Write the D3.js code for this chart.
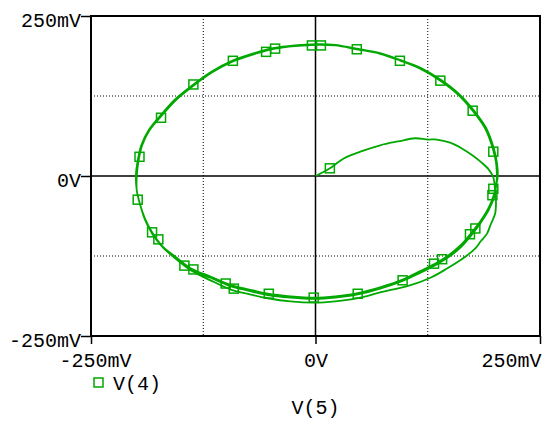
<!DOCTYPE html>
<html>
<head>
<meta charset="utf-8">
<script src="https://cdn.jsdelivr.net/npm/d3@7"></script>
<style>
  body { margin: 0; background: #fff; }
  svg { display: block; }
  text { font-family: "Liberation Mono", "DejaVu Sans Mono", monospace; fill: #000; }
</style>
</head>
<body>
<svg id="chart" width="550" height="425"></svg>
<script>
// ---- data (mV) ----
const xTickValues = [-250, 0, 250];
const yTickValues = [-250, 0, 250];
const tickLabels = ["-250mV", "0V", "250mV"];
const gridValues = [-125, 125];
const seriesName = "V(4)";
const xAxisTitle = "V(5)";

// trace V(5) (x) and V(4) (y), in mV
const traceX = [
  0,7,16,31,50,72,92,111,125,135,150,163,175,185,193,198,
  200,201,200,195,191,184,178,164,146,128,105,72,47,22,-1,-28,-53,-73,-95,-117,-138,-156,-171,-182,-190,-195,-199,-199,
  -197,-193,-185,-172,-156,-136,-115,-92,-67,-45,-23,1,22,46,72,95,116,139,159,175,189,198,201,202,
  201,199,193,185,175,162,149,134,117,97,72,47,22,-1,-28,-53,-75,-95,-117,-138,-156,-171,-182,-190,-195,-199,-200,
  -198,-194,-186,-173,-157,-137,-116,-93,-68,-46,-23,1,22,46,72,95,117,140,160,176,190,199,202,203,
  201,198,192,184,174,161,148,133,116,97,72,47,22,-1,-28,-53,-75,-95,-117,-138,-156,-171,-182,-190,-195,-199,-199,
  -197,-193,-185,-172,-156,-136,-115,-92,-67,-45,-23,1,22,46,72,95,116,139,159,175,189,198,201,202
];
const traceY = [
  0,5,12,27,38,48,54,59,57,57,52,43,32,21,10,-2,
  -23,-43,-59,-76,-90,-102,-113,-129,-145,-159,-171,-182,-191,-196,-198,-196,-191,-185,-177,-163,-148,-129,-110,-90,-68,-46,-23,1,
  24,48,71,93,118,141,162,179,191,199,203,205,204,198,191,180,168,149,127,102,74,40,21,1,
  -17,-33,-53,-71,-90,-111,-126,-139,-151,-164,-176,-185,-190,-192,-190,-186,-179,-172,-159,-146,-127,-110,-89,-67,-46,-23,1,
  24,48,71,94,119,142,163,180,192,200,204,206,205,199,192,181,169,150,128,103,75,41,21,1,
  -16,-32,-52,-70,-88,-109,-124,-137,-149,-162,-174,-183,-188,-190,-188,-184,-177,-170,-157,-145,-126,-109,-88,-66,-46,-23,1,
  24,48,71,93,118,141,162,179,191,199,203,205,204,198,191,180,168,149,127,102,74,40,21,1
];

// marker positions on the trace, in mV
const markerX = [16,-196,-172,-136,-92,-55,-45,-4,6,46,94,139,175,198,198,197,178,172,141,132,97,47,-2,-52,-100,-91,-136,-146,-175,-182,-198];
const markerY = [12,30,91,143,180,194,199,204,204,198,180,149,102,38,-20,-30,-82,-91,-130,-137,-163,-184,-190,-184,-168,-176,-146,-140,-99,-88,-37];

// ---- layout ----
const plot = { left: 91, right: 540, top: 16, bottom: 336 };
const green = "#00a800";
const svg = d3.select("#chart");

const x = d3.scaleLinear().domain([-250, 250]).range([plot.left, plot.right]);
const y = d3.scaleLinear().domain([-250, 250]).range([plot.bottom, plot.top]);

// grid (dotted)
const grid = svg.append("g");
grid.selectAll("line.gx").data(gridValues).enter().append("line")
  .attr("x1", d => x(d)).attr("x2", d => x(d))
  .attr("y1", plot.top).attr("y2", plot.bottom)
  .attr("stroke", "#000").attr("stroke-width", 1).attr("stroke-dasharray", "1,2");
grid.selectAll("line.gy").data(gridValues).enter().append("line")
  .attr("y1", d => y(d)).attr("y2", d => y(d))
  .attr("x1", plot.left).attr("x2", plot.right)
  .attr("stroke", "#000").attr("stroke-width", 1).attr("stroke-dasharray", "1,2");

// zero axes
svg.append("line").attr("x1", x(0)).attr("x2", x(0)).attr("y1", plot.top).attr("y2", plot.bottom)
  .attr("stroke", "#000").attr("stroke-width", 1.5);
svg.append("line").attr("y1", y(0)).attr("y2", y(0)).attr("x1", plot.left).attr("x2", plot.right)
  .attr("stroke", "#000").attr("stroke-width", 1.5);

// frame
svg.append("rect").attr("x", plot.left).attr("y", plot.top)
  .attr("width", plot.right - plot.left).attr("height", plot.bottom - plot.top)
  .attr("fill", "none").attr("stroke", "#000").attr("stroke-width", 2);

// axes (ticks + labels)
const fmt = d => tickLabels[xTickValues.indexOf(d)];
const yAxis = d3.axisLeft(y).tickValues(yTickValues).tickFormat(fmt).tickSize(10).tickPadding(0);
const gy = svg.append("g").attr("transform", `translate(${plot.left},0)`).call(yAxis);
gy.select(".domain").remove();
gy.selectAll(".tick line").attr("stroke", "#000").attr("stroke-width", 1.5);
gy.selectAll(".tick text").attr("font-size", 20).attr("dy", "0.5em")
  .style("font-family", '"Liberation Mono", monospace');

const xAxis = d3.axisBottom(x).tickValues(xTickValues).tickFormat(fmt).tickSize(8).tickPadding(9);
const gx = svg.append("g").attr("transform", `translate(0,${plot.bottom})`).call(xAxis);
gx.select(".domain").remove();
gx.selectAll(".tick line").attr("stroke", "#000").attr("stroke-width", 1.5);
gx.selectAll(".tick text").attr("font-size", 20)
  .style("font-family", '"Liberation Mono", monospace');
gx.selectAll(".tick text").filter(d => d === -250).attr("dx", 4);
// keep last label inside the window
gx.selectAll(".tick text").filter(d => d === 250).attr("text-anchor", "end").attr("dx", 1);

// trace
const pts = traceX.map((v, i) => [v, traceY[i]]);
const line = d3.line().x(d => x(d[0])).y(d => y(d[1])).curve(d3.curveCatmullRom.alpha(0.5));
svg.append("path").datum(pts).attr("d", line)
  .attr("fill", "none").attr("stroke", green).attr("stroke-width", 1.8).attr("stroke-linejoin", "round");

// markers
const ms = 9;
svg.selectAll("rect.mk").data(markerX.map((v, i) => [v, markerY[i]])).enter().append("rect")
  .attr("x", d => x(d[0]) - ms / 2).attr("y", d => y(d[1]) - ms / 2)
  .attr("width", ms).attr("height", ms)
  .attr("fill", "none").attr("stroke", green).attr("stroke-width", 1.5);

// legend
svg.append("rect").attr("x", 94).attr("y", 378).attr("width", 9).attr("height", 9)
  .attr("fill", "none").attr("stroke", green).attr("stroke-width", 1.5);
svg.append("text").attr("x", 113).attr("y", 390).attr("font-size", 20).text(seriesName);

// x title
svg.append("text").attr("x", x(0)).attr("y", 414).attr("font-size", 20)
  .attr("text-anchor", "middle").text(xAxisTitle);
</script>
</body>
</html>
